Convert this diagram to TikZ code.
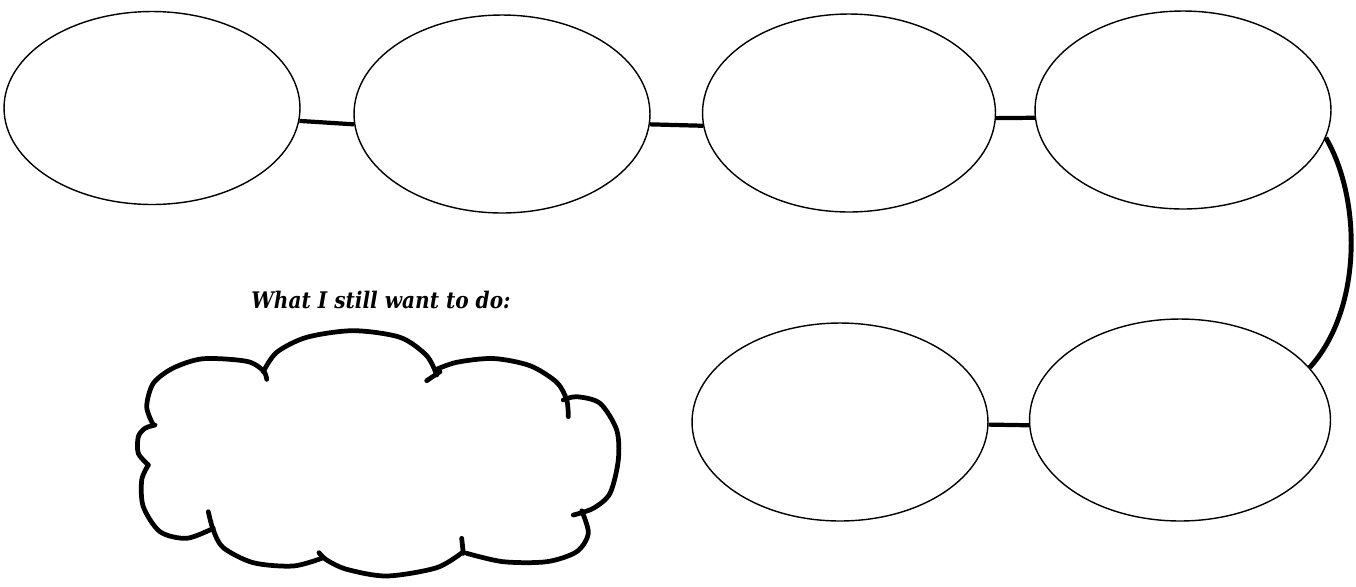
\documentclass[tikz,border=0pt]{standalone}
\usepackage{fontspec}
\usetikzlibrary{shapes.geometric}
\newfontfamily\notefont{DejaVu Serif}[FakeStretch=0.88]

\begin{document}
\begin{tikzpicture}[x=0.02cm,y=-0.02cm,
        oval/.style={ellipse,draw,line width=0.8pt,inner sep=0pt,
                     minimum width=5.92cm,minimum height=3.96cm},
        link/.style={line width=2.4pt},
        puff/.style={line width=2.7pt,line cap=round,line join=round}]
      \useasboundingbox (0,0) rectangle (1356,586);
      % top row
      \node[oval,minimum height=3.86cm] (o1) at (152,108) {};
      \node[oval] (o2) at (502,114) {};
      \node[oval,minimum width=5.86cm] (o3) at (849,113) {};
      \node[oval] (o4) at (1183,110) {};
      % bottom row
      \node[oval] (o5) at (840,422) {};
      \node[oval,minimum width=6.02cm,minimum height=4.04cm] (o6) at (1180,420) {};
      \draw[link] (o1.-5) -- (o2.184);
      \draw[link] (o2.-4) -- (o3.185);
      \draw[link] (o3.-2) -- (o4.183);
      \draw[link] (o5.-1) -- (o6.182);
      \draw[link,line width=2.8pt] (o4.-11) .. controls (1362,200) and (1362,310) .. (o6.22);
      % cloud
      \node[font=\notefont\bfseries\itshape\fontsize{13}{15}\selectfont] (note) at (381,300)
        {What I still want to do:};
      \draw[puff] plot[smooth] coordinates {(153.3,425) (146.7,406.7) (153.3,383.3)
        (173.3,368) (203.3,358.7) (246.7,361.3) (263.3,370.7) (266.7,379.3)};
      \draw[puff] plot[smooth] coordinates {(263.3,371.7) (276.7,352.3) (306.7,337.3)
        (353.3,330.7) (400,337.3) (426.7,355.7) (436.7,375)};
      \draw[puff] (426.7,380.7) -- (440,371.7);
      \draw[puff] plot[smooth] coordinates {(435,370) (456.7,362.3) (493.3,358.5)
        (530,365.7) (556.7,382.3) (566.7,400) (568.3,416.7)};
      \draw[puff] plot[smooth] coordinates {(563.3,400) (576.7,396.7) (600,403.3)
        (616.7,430) (618.3,460) (610,493.3) (593.3,508.3) (573.3,515)};
      \draw[puff] plot[smooth] coordinates {(581.7,510.7) (588.3,533.3) (576.7,551.7)
        (546.7,561.7) (503.3,561.7) (466.7,553.3)};
      \draw[puff] (463.3,553.3) -- (461.7,538.3);
      \draw[puff] plot[smooth] coordinates {(463.3,551.7) (436.7,567.7) (386.7,576)
        (346.7,569.3) (326.7,560) (319,552.7)};
      \draw[puff] plot[smooth] coordinates {(323.3,557.7) (293.3,566) (253.3,562.7)
        (223.3,547.7) (213.3,530) (208.3,511.7)};
      \draw[puff] plot[smooth] coordinates {(213.3,528.3) (186.7,538.3) (160,531.7)
        (143.3,506.7) (141.7,480) (148.3,465)};
      \draw[puff] plot[smooth] coordinates {(148.3,465) (138.3,453.3) (138.3,436.7)
        (145,428.3) (155,425)};
    \end{tikzpicture}
\end{document}
